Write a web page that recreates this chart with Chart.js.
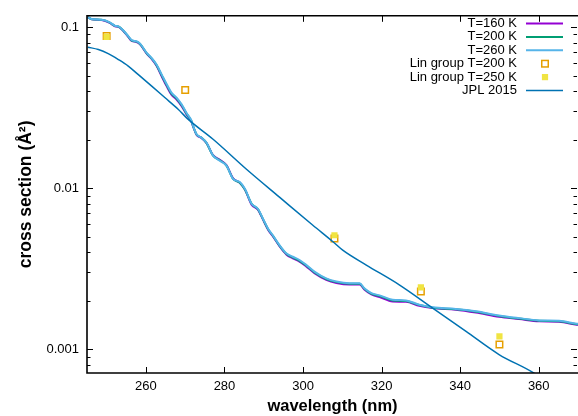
<!DOCTYPE html>
<html>
<head>
<meta charset="utf-8">
<script src="https://cdn.jsdelivr.net/npm/chart.js@4"></script>
<style>
  html, body { margin: 0; padding: 0; background: #fff; }
  #wrap { width: 578px; height: 416px; }
</style>
</head>
<body>
<div id="wrap"><canvas id="xsChart" width="578" height="416"></canvas></div>
<script>
// cross section vs wavelength
const wavelengths = [245.2, 246.2, 248.7, 250.8, 252.1, 253.0, 254.2, 255.5, 256.4, 257.6, 258.5, 260.2, 261.4, 262.7, 264.0,
  265.3, 266.5, 267.8, 269.1, 270.3, 271.6, 272.0, 272.9, 274.1, 275.4, 277.1, 278.8, 280.5, 282.2, 283.9,
  285.2, 286.9, 288.5, 289.8, 291.1, 292.3, 294.0, 295.8, 297.4, 299.1, 300.8, 302.9, 305.9, 308.5, 311.8,
  314.4, 315.6, 317.4, 319.5, 322.8, 326.2, 329.6, 333.0, 338.9, 344.0, 349.9, 355.0, 360.1, 365.2, 369.7, 371.0];

const xs160 = [0.1150, 0.1118, 0.1106, 0.1062, 0.1012, 0.1003, 0.0948, 0.0868, 0.0820, 0.0808, 0.0780, 0.0683, 0.0636, 0.0575, 0.0495,
  0.0428, 0.0380, 0.0355, 0.0323, 0.0288, 0.0258, 0.0242, 0.0214, 0.0205, 0.0191, 0.0160, 0.0150, 0.0139, 0.0115, 0.0108,
  0.0098, 0.0079, 0.00735, 0.00638, 0.00552, 0.00503, 0.00436, 0.00386, 0.00367, 0.00350, 0.00327, 0.00297, 0.00270, 0.00258, 0.00252,
  0.00252, 0.00235, 0.00219, 0.00211, 0.00198, 0.00197, 0.00186, 0.00180, 0.00176, 0.00169, 0.00159, 0.00154, 0.00149, 0.00148, 0.00142, 0.00141];

const xs200 = [0.1152, 0.1119, 0.1108, 0.1066, 0.1016, 0.1007, 0.0952, 0.0873, 0.0824, 0.0812, 0.0785, 0.0687, 0.0640, 0.0580, 0.0502,
  0.0435, 0.0386, 0.0360, 0.0327, 0.0291, 0.0260, 0.0243, 0.0215, 0.0206, 0.0191, 0.0159, 0.0149, 0.0138, 0.0114, 0.0108,
  0.0098, 0.0080, 0.00740, 0.00642, 0.00556, 0.00507, 0.00440, 0.00390, 0.00371, 0.00354, 0.00331, 0.00300, 0.00273, 0.00261, 0.00255,
  0.00255, 0.00237, 0.00221, 0.00214, 0.00201, 0.00199, 0.00188, 0.00181, 0.00177, 0.00171, 0.00161, 0.00155, 0.00150, 0.00149, 0.00143, 0.00142];

const xs260 = [0.1153, 0.1120, 0.1110, 0.1070, 0.1019, 0.1010, 0.0955, 0.0877, 0.0828, 0.0816, 0.0789, 0.0691, 0.0644, 0.0585, 0.0508,
  0.0441, 0.0392, 0.0365, 0.0331, 0.0294, 0.0262, 0.0244, 0.0216, 0.0206, 0.0192, 0.0159, 0.0148, 0.0138, 0.0114, 0.0109,
  0.0099, 0.0080, 0.00745, 0.00646, 0.00560, 0.00510, 0.00443, 0.00393, 0.00375, 0.00358, 0.00334, 0.00303, 0.00275, 0.00263, 0.00257,
  0.00257, 0.00239, 0.00223, 0.00216, 0.00203, 0.00201, 0.00189, 0.00182, 0.00178, 0.00172, 0.00162, 0.00156, 0.00151, 0.00150, 0.00144, 0.00143];

const jplWavelengths = [245.2, 247.9, 250.4, 253.0, 255.5, 258.0, 261.4, 264.8, 268.2, 270.7, 277.1, 285.6, 294.0, 302.5,
  307.6, 310.1, 316.1, 324.5, 333.0, 341.5, 349.9, 359.3, 362.0];
const jplValues = [0.0750, 0.0725, 0.0684, 0.0628, 0.0572, 0.0508, 0.0431, 0.0365, 0.0309, 0.0268, 0.0201, 0.0131, 0.00879, 0.00588,
  0.00465, 0.00412, 0.00333, 0.00251, 0.00180, 0.00129, 0.000927, 0.000698, 0.000620];

const lin200Wavelengths = [250, 270, 308, 330, 350];
const lin200Values = [0.0880, 0.0407, 0.00486, 0.00228, 0.00107];
const lin250Wavelengths = [250, 308, 330, 350];
const lin250Values = [0.0868, 0.00510, 0.00242, 0.00120];

const seriesLabels = ['T=160 K', 'T=200 K', 'T=260 K', 'Lin group T=200 K', 'Lin group T=250 K', 'JPL 2015'];
const xTickValues = [260, 280, 300, 320, 340, 360];
const yTickValues = [0.001, 0.01, 0.1];

const FONT = "'Liberation Sans', Arial, sans-serif";

function pairs(xs, ys) {
  return xs.map((x, i) => ({ x: x, y: ys[i] }));
}

function lineSet(label, xs, ys, color, width, order) {
  return {
    label: label,
    data: pairs(xs, ys),
    borderColor: color,
    backgroundColor: color,
    borderWidth: width,
    pointRadius: 0,
    cubicInterpolationMode: 'monotone',
    order: order
  };
}

// gnuplot style frame: inward ticks on all four sides + legend top right
const framePlugin = {
  id: 'frame',
  afterDatasetsDraw(chart) {
    const ctx = chart.ctx;
    const area = chart.chartArea;
    const x = chart.scales.x;
    const y = chart.scales.y;
    ctx.save();
    ctx.strokeStyle = '#000';
    ctx.lineWidth = 1;
    ctx.beginPath();
    xTickValues.forEach(v => {
      const px = Math.round(x.getPixelForValue(v)) + 0.5;
      ctx.moveTo(px, area.bottom); ctx.lineTo(px, area.bottom - 6);
      ctx.moveTo(px, area.top); ctx.lineTo(px, area.top + 6);
    });
    for (let d = 0.0001; d < 1; d *= 10) {
      for (let m = 1; m <= 9; m++) {
        const v = d * m;
        if (v < y.min || v > y.max) continue;
        const py = Math.round(y.getPixelForValue(v)) + 0.5;
        const len = m === 1 ? 6 : 3.5;
        ctx.moveTo(area.left, py); ctx.lineTo(area.left + len, py);
        ctx.moveTo(area.right - 1, py); ctx.lineTo(area.right - 1 - len, py);
      }
    }
    ctx.stroke();

    // frame: left, top, bottom (right edge falls just outside the picture)
    ctx.lineWidth = 1.6;
    ctx.beginPath();
    ctx.moveTo(area.right + 2, area.top);
    ctx.lineTo(area.left, area.top);
    ctx.lineTo(area.left, area.bottom);
    ctx.lineTo(area.right + 2, area.bottom);
    ctx.stroke();

    // legend
    ctx.font = '13px ' + FONT;
    ctx.fillStyle = '#000';
    ctx.textAlign = 'right';
    ctx.textBaseline = 'middle';
    chart.data.datasets.forEach((ds, i) => {
      const ly = 23.5 + i * 13.4;
      ctx.fillText(ds.label, 517, ly);
      if (ds.showLine === false) {
        const s = ds.pointRadius * Math.SQRT1_2;
        ctx.fillStyle = ds.backgroundColor;
        ctx.fillRect(545 - s, ly - s, 2 * s, 2 * s);
        if (ds.pointBorderWidth) {
          ctx.strokeStyle = ds.borderColor;
          ctx.lineWidth = ds.pointBorderWidth;
          ctx.strokeRect(545 - s, ly - s, 2 * s, 2 * s);
        }
        ctx.fillStyle = '#000';
      } else {
        ctx.strokeStyle = ds.borderColor;
        ctx.lineWidth = ds.borderWidth;
        ctx.beginPath();
        ctx.moveTo(526, ly); ctx.lineTo(563, ly);
        ctx.stroke();
      }
    });
    ctx.restore();
  }
};

new Chart(document.getElementById('xsChart'), {
  type: 'line',
  data: {
    datasets: [
      lineSet(seriesLabels[0], wavelengths, xs160, '#9400d3', 2, 6),
      lineSet(seriesLabels[1], wavelengths, xs200, '#009e73', 2, 5),
      lineSet(seriesLabels[2], wavelengths, xs260, '#56b4e9', 2, 4),
      {
        label: seriesLabels[3],
        data: pairs(lin200Wavelengths, lin200Values),
        showLine: false,
        pointStyle: 'rect',
        pointRadius: 4.6,
        pointBorderWidth: 1.5,
        borderColor: '#e69f00',
        backgroundColor: '#fff',
        order: 3
      },
      {
        label: seriesLabels[4],
        data: pairs(lin250Wavelengths, lin250Values),
        showLine: false,
        pointStyle: 'rect',
        pointRadius: 4.4,
        pointBorderWidth: 0,
        borderColor: '#f0e442',
        backgroundColor: '#f0e442',
        order: 2
      },
      lineSet(seriesLabels[5], jplWavelengths, jplValues, '#0072b2', 1.5, 1)
    ]
  },
  options: {
    responsive: false,
    animation: false,
    devicePixelRatio: 1,
    layout: { autoPadding: false, padding: { top: 13, right: 0, left: 0, bottom: 0 } },
    plugins: {
      legend: { display: false },
      tooltip: { enabled: false }
    },
    scales: {
      x: {
        type: 'linear',
        min: 245,
        max: 370,
        afterBuildTicks: s => { s.ticks = xTickValues.map(v => ({ value: v })); },
        afterFit: s => { s.height = 43; },
        grid: { display: false, drawTicks: false },
        border: { display: false },
        ticks: { padding: 6, color: '#000', font: { size: 13, family: FONT } },
        title: {
          display: true,
          text: 'wavelength (nm)',
          color: '#000',
          padding: 0,
          font: { size: 16.5, weight: 'bold', family: FONT }
        }
      },
      y: {
        type: 'logarithmic',
        min: 0.000712,
        max: 0.1174,
        afterBuildTicks: s => { s.ticks = yTickValues.map(v => ({ value: v })); },
        afterFit: s => { s.width = 87; },
        grid: { display: false, drawTicks: false },
        border: { display: false },
        ticks: {
          padding: 8,
          color: '#000',
          font: { size: 13, family: FONT },
          callback: v => String(v)
        },
        title: {
          display: true,
          text: 'cross section (Å²)',
          color: '#000',
          padding: { top: 16, bottom: 0 },
          font: { size: 17.5, weight: 'bold', family: FONT }
        }
      }
    }
  },
  plugins: [framePlugin]
});
</script>
</body>
</html>
